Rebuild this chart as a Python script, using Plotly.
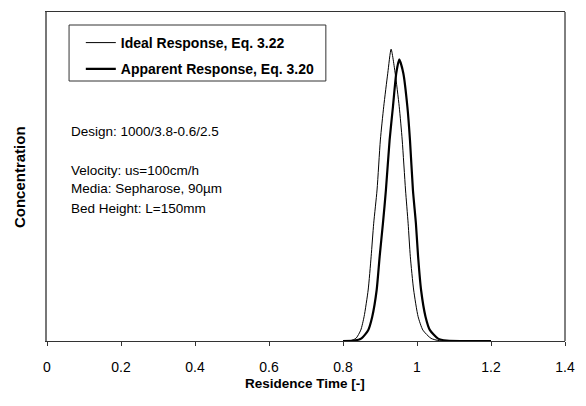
import plotly.graph_objects as go

# Residence time distribution: ideal vs apparent response
ideal_t = [0.80, 0.82, 0.835, 0.848, 0.857, 0.868, 0.876, 0.883, 0.892, 0.901,
           0.910, 0.921, 0.930, 0.941, 0.952, 0.960, 0.969, 0.976, 0.982, 0.991,
           1.003, 1.016, 1.038, 1.06, 1.20]
ideal_c = [0.0, 0.001, 0.008, 0.033, 0.074, 0.155, 0.256, 0.358, 0.459, 0.611,
           0.712, 0.814, 0.887, 0.814, 0.712, 0.611, 0.459, 0.358, 0.256, 0.155,
           0.074, 0.033, 0.008, 0.001, 0.0]

apparent_t = [0.80, 0.83, 0.850, 0.868, 0.879, 0.891, 0.899, 0.908, 0.916, 0.926,
              0.935, 0.944, 0.952, 0.963, 0.974, 0.981, 0.989, 0.997, 1.003, 1.011,
              1.023, 1.035, 1.056, 1.08, 1.20]
apparent_c = [0.0, 0.001, 0.008, 0.033, 0.074, 0.155, 0.256, 0.358, 0.459, 0.611,
              0.712, 0.814, 0.856, 0.814, 0.712, 0.611, 0.459, 0.358, 0.256, 0.155,
              0.074, 0.033, 0.008, 0.001, 0.0]

x_ticks = [0, 0.2, 0.4, 0.6, 0.8, 1.0, 1.2, 1.4]
x_tick_text = ["0", "0.2", "0.4", "0.6", "0.8", "1", "1.2", "1.4"]

design_line = "Design: 1000/3.8-0.6/2.5"
condition_lines = ["Velocity: us=100cm/h", "Media: Sepharose, 90\u00b5m",
                   "Bed Height: L=150mm"]

FONT = "Liberation Sans, Arial, sans-serif"
W, H = 586, 406
L, R, T, B = 46.5, 11, 12, 65
pw, ph = W - L - R, H - T - B


def px_to_paper(px, py):
    return (px - L) / pw, (H - B - py) / ph


fig = go.Figure()
fig.add_trace(go.Scatter(
    x=ideal_t, y=ideal_c, mode="lines", name="Ideal Response, Eq. 3.22",
    line=dict(color="black", width=1, shape="spline", smoothing=0.6),
    legendgroup="a"))
fig.add_trace(go.Scatter(
    x=apparent_t, y=apparent_c, mode="lines", name="Apparent Response, Eq. 3.20",
    line=dict(color="black", width=2.2, shape="spline", smoothing=0.6),
    legendgroup="b"))

lx, ly = px_to_paper(81, 27)
fig.update_layout(
    width=W, height=H,
    margin=dict(l=L, r=R, t=T, b=B, pad=0),
    paper_bgcolor="white", plot_bgcolor="white",
    font=dict(family=FONT, size=14, color="black"),
    showlegend=True,
    legend=dict(x=lx, y=ly, xanchor="left", yanchor="top",
                bgcolor="rgba(0,0,0,0)", borderwidth=0,
                font=dict(family=FONT, size=14, weight="bold"),
                tracegroupgap=5, traceorder="grouped"),
    xaxis=dict(range=[0, 1.4], tickvals=x_ticks, ticktext=x_tick_text,
               showgrid=False, zeroline=False, showline=True, linecolor="#333",
               linewidth=1, mirror=True, ticks="outside", ticklen=4,
               tickcolor="#333", ticklabelstandoff=9,
               tickfont=dict(family=FONT, size=14)),
    yaxis=dict(range=[0, 1], showgrid=False, zeroline=False, showline=True,
               linecolor="#777", linewidth=2, showticklabels=False, ticks=""),
)

# right border of the plot frame
fig.add_shape(type="line", xref="paper", yref="paper", x0=1, x1=1, y0=0, y1=1,
              line=dict(color="black", width=1))

# legend frame
bx0, by0 = px_to_paper(69, 25)
bx1, by1 = px_to_paper(331, 81)
fig.add_shape(type="rect", xref="paper", yref="paper", x0=bx0, x1=bx1,
              y0=by1, y1=by0, line=dict(color="#333", width=1))

# axis titles
tx, ty = px_to_paper(310, 383)
fig.add_annotation(text="Residence Time [-]", xref="paper", yref="paper",
                   x=tx, y=ty, showarrow=False, xanchor="center", yanchor="middle",
                   font=dict(family=FONT, size=13.5, weight="bold"))
cx, cy = px_to_paper(18, 177)
fig.add_annotation(text="Concentration", xref="paper", yref="paper",
                   x=cx, y=cy, showarrow=False, textangle=-90,
                   xanchor="center", yanchor="middle",
                   font=dict(family=FONT, size=15, weight="bold"))

# design notes, one line each
note_rows = [(design_line, 131)] + [
    (txt, 170 + 19 * i) for i, txt in enumerate(condition_lines)]
for txt, py in note_rows:
    nx, ny = px_to_paper(69, py)
    fig.add_annotation(text=txt, xref="paper", yref="paper",
                       x=nx, y=ny, showarrow=False, xanchor="left",
                       yanchor="middle", align="left",
                       font=dict(family=FONT, size=13.5))

fig.write_html("out.html")
